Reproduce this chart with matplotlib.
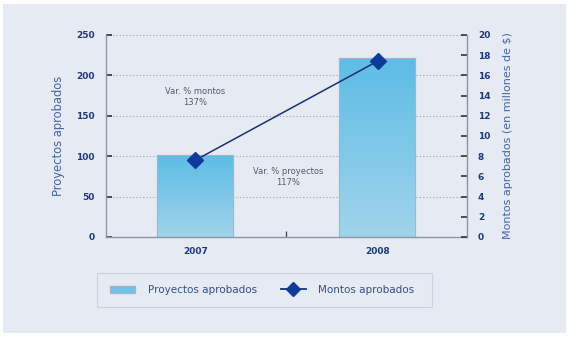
import matplotlib
matplotlib.use("Agg")
import matplotlib.pyplot as plt
import numpy as np
from matplotlib.patches import Rectangle, Patch
from matplotlib.lines import Line2D
from matplotlib.colors import LinearSegmentedColormap

years = ["2007", "2008"]
proyectos = [100, 220]
montos = [7.6, 17.4]
left_ticks = [0, 50, 100, 150, 200, 250]
right_ticks = [0, 2, 4, 6, 8, 10, 12, 14, 16, 18, 20]
ann_montos = "Var. % montos\n137%"
ann_proy = "Var. % proyectos\n117%"

BG = "#e6eaf3"
NAVY = "#1f3a80"
LABEL = "#4466aa"

fig = plt.figure(figsize=(5.70, 3.39), dpi=100)
fig.patch.set_facecolor("white")
fig.patches.append(Rectangle((0.005, 0.018), 0.988, 0.970, transform=fig.transFigure,
                             facecolor=BG, edgecolor="none", zorder=-10))

ax = fig.add_axes([0.186, 0.301, 0.633, 0.596])
ax.set_facecolor(BG)
ax.patch.set_alpha(0)
x = np.arange(len(years))
bars = ax.bar(x, proyectos, width=0.41, color="#7cc8ea", edgecolor="#a9b3c4",
              linewidth=1.6, zorder=2)
cmap = LinearSegmentedColormap.from_list("g", ["#a0d4ea", "#5dbde6"])
grad = np.linspace(0, 1, 256).reshape(-1, 1)
for b in bars:
    x0, y0 = b.get_x(), b.get_y()
    w, h = b.get_width(), b.get_height()
    im = ax.imshow(grad, extent=[x0, x0 + w, y0, y0 + h], origin="lower",
                   cmap=cmap, aspect="auto", zorder=2.5)
    im.set_clip_path(b)

ax.set_xlim(-0.49, 1.49)
ax.set_ylim(0, 250)
ax.set_yticks(left_ticks)
ax.set_yticklabels([str(v) for v in left_ticks])
ax.set_xticks(x)
ax.set_xticklabels(years)
ax.set_xticks([0.5], minor=True)
ax.tick_params(axis="x", which="major", length=0, pad=7)
ax.tick_params(axis="x", which="minor", length=4, direction="in", color="#444", width=0.9)
ax.tick_params(axis="y", length=4, direction="in", color="#333", width=1.2, pad=8)
for lab in ax.get_xticklabels() + ax.get_yticklabels():
    lab.set_fontsize(6.5)
    lab.set_fontweight("bold")
    lab.set_color(NAVY)
for v in left_ticks[1:]:
    ax.axhline(v, color="#9aa0ac", linestyle=(0, (1, 2)), linewidth=0.8, zorder=1)
for s in ["left", "bottom"]:
    ax.spines[s].set_color("#8e95a3")
    ax.spines[s].set_linewidth(1.0)
ax.spines["top"].set_visible(False)
ax.spines["right"].set_visible(False)
ax.set_ylabel("Proyectos aprobados", fontsize=8.3, color=LABEL, labelpad=8)

ax.text(0, 173, ann_montos, ha="center", va="center", fontsize=6, color="#555a66")
ax.text(0.51, 74, ann_proy, ha="center", va="center", fontsize=6, color="#555a66")

ax2 = ax.twinx()
ax2.plot(x, montos, color="#1a2f7a", linewidth=1.1, marker="D", markersize=8.5,
         markerfacecolor="#0e3a9c", markeredgecolor="#0e3a9c", zorder=5)
ax2.set_ylim(0, 20)
ax2.set_yticks(right_ticks)
ax2.set_yticklabels([str(v) for v in right_ticks])
ax2.tick_params(axis="y", length=4, direction="in", color="#333", width=1.2, pad=8)
for lab in ax2.get_yticklabels():
    lab.set_fontsize(6.5)
    lab.set_fontweight("bold")
    lab.set_color(NAVY)
ax2.spines["right"].set_color("#8e95a3")
ax2.spines["right"].set_linewidth(1.0)
for s in ["top", "left", "bottom"]:
    ax2.spines[s].set_visible(False)
ax2.set_ylabel("Montos aprobados (en millones de $)", fontsize=8, color=LABEL, labelpad=9)

# legend frame
fig.patches.append(Rectangle((97 / 570, 1 - 307 / 339), 335 / 570, 34 / 339,
                             transform=fig.transFigure, facecolor=BG,
                             edgecolor="#cdd3de", linewidth=0.8, zorder=-5))
handles = [Patch(facecolor="#6cc2e8", edgecolor="#a9b3c4", label="Proyectos aprobados"),
           Line2D([0], [0], color="#1a2f7a", linewidth=1.3, marker="D", markersize=7,
                  markerfacecolor="#0e3a9c", markeredgecolor="#0e3a9c", label="Montos aprobados")]
leg = fig.legend(handles=handles, loc="center left", ncol=2,
                 bbox_to_anchor=(110 / 570, 1 - 290 / 339), frameon=False,
                 fontsize=7.5, handlelength=2.4, columnspacing=2.3,
                 borderpad=0, borderaxespad=0, handletextpad=1.2)
for t in leg.get_texts():
    t.set_color("#33508f")

fig.savefig("out.png", dpi=100, facecolor="white")
